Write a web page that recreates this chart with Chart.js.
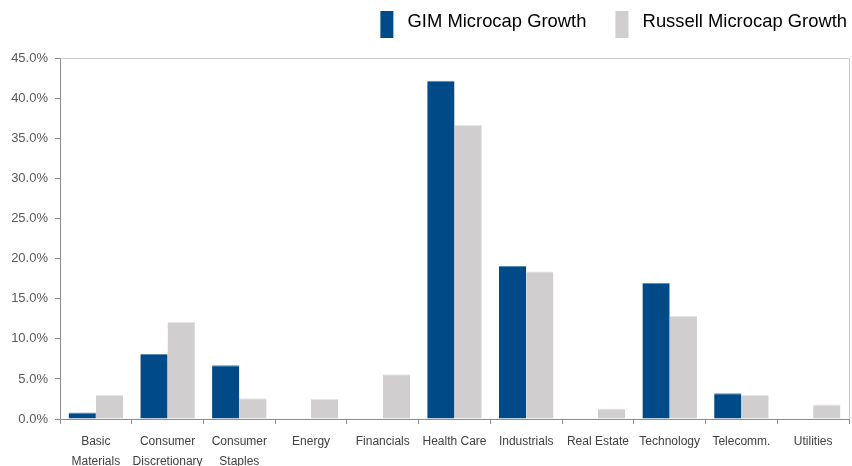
<!DOCTYPE html>
<html>
<head>
<meta charset="utf-8">
<script src="https://cdn.jsdelivr.net/npm/chart.js@4/dist/chart.umd.min.js"></script>
<style>
html,body{margin:0;padding:0;background:#fff;overflow:hidden;}
#wrap{width:852px;height:466px;position:relative;}
</style>
</head>
<body>
<div id="wrap"><canvas id="c" width="852" height="466"></canvas></div>
<script>
const categories = [["Basic","Materials"],["Consumer","Discretionary"],["Consumer","Staples"],["Energy"],["Financials"],["Health Care"],["Industrials"],["Real Estate"],["Technology"],["Telecomm."],["Utilities"]];
const gimValues = [0.8, 8.1, 6.7, 0, 0, 42.2, 19.1, 0, 17.0, 3.2, 0];
const russellValues = [3.0, 12.1, 2.6, 2.5, 5.6, 36.7, 18.4, 1.3, 12.9, 3.0, 1.8];
const seriesNames = ["GIM Microcap Growth", "Russell Microcap Growth"];
const seriesColors = ["#004a87", "#d0cecf"];
const yTicks = [0, 5, 10, 15, 20, 25, 30, 35, 40, 45];

// legend swatch images (tall narrow boxes)
function swatch(color) {
  const cv = document.createElement('canvas');
  cv.width = 45; cv.height = 31;
  const g = cv.getContext('2d');
  g.fillStyle = color;
  g.fillRect(27, 0, 13, 31);
  return cv;
}

const frame = {
  id: 'frame',
  beforeDatasetsDraw(chart) {
    const a = chart.chartArea, ctx = chart.ctx;
    ctx.save();
    ctx.strokeStyle = '#c8c8c8';
    ctx.lineWidth = 1;
    ctx.beginPath();
    ctx.moveTo(Math.round(a.left)+0.5, Math.round(a.top)+0.5);
    ctx.lineTo(Math.round(a.right)+0.5, Math.round(a.top)+0.5);
    ctx.lineTo(Math.round(a.right)+0.5, Math.round(a.bottom)+0.5);
    ctx.stroke();
    ctx.restore();
  }
};

new Chart(document.getElementById('c'), {
  type: 'bar',
  data: {
    labels: categories,
    datasets: [
      {label: seriesNames[0], data: gimValues, backgroundColor: seriesColors[0], borderColor: '#5b87b5', borderWidth: {top:1}, borderSkipped: 'bottom', pointStyle: swatch(seriesColors[0])},
      {label: seriesNames[1], data: russellValues, backgroundColor: seriesColors[1], borderColor: '#e6e5e5', borderWidth: {top:1}, borderSkipped: 'bottom', pointStyle: swatch(seriesColors[1])}
    ]
  },
  options: {
    responsive: false,
    animation: false,
    devicePixelRatio: 1,
    layout: {padding: {left: 0, right: 3, top: 11, bottom: 0}},
    datasets: {bar: {categoryPercentage: 0.76, barPercentage: 1.0}},
    plugins: {
      tooltip: {enabled: false},
      title: {display: true, text: '', position: 'top', weight: 500, padding: 0, font: {size: 17, lineHeight: 1}},
      legend: {
        position: 'top',
        align: 'end',
        weight: 1000,
        labels: {
          usePointStyle: true,
          pointStyleWidth: 45,
          padding: 2,
          color: '#000',
          font: {family: '"Liberation Sans", Arial, sans-serif', size: 18.4}
        }
      }
    },
    scales: {
      x: {
        grid: {display: true, drawOnChartArea: false, offset: true, tickLength: 5, color: '#8c8c8c'},
        border: {color: '#8c8c8c', width: 1},
        ticks: {
          color: '#404040',
          padding: 8,
          maxRotation: 0,
          autoSkip: false,
          font: {family: '"Liberation Sans", Arial, sans-serif', size: 12, lineHeight: 1.67}
        },
        afterFit(s) { s.height = 47; }
      },
      y: {
        min: 0,
        max: 45,
        afterBuildTicks(s) { s.ticks = yTicks.map(v => ({value: v})); },
        grid: {display: true, drawOnChartArea: false, tickLength: 5, color: '#8c8c8c'},
        border: {color: '#8c8c8c', width: 1},
        ticks: {
          color: '#595959',
          padding: 7,
          font: {family: '"Liberation Sans", Arial, sans-serif', size: 13},
          callback: v => v.toFixed(1) + '%'
        },
        afterFit(s) { s.width = 60; }
      }
    }
  },
  plugins: [frame]
});
</script>
</body>
</html>
